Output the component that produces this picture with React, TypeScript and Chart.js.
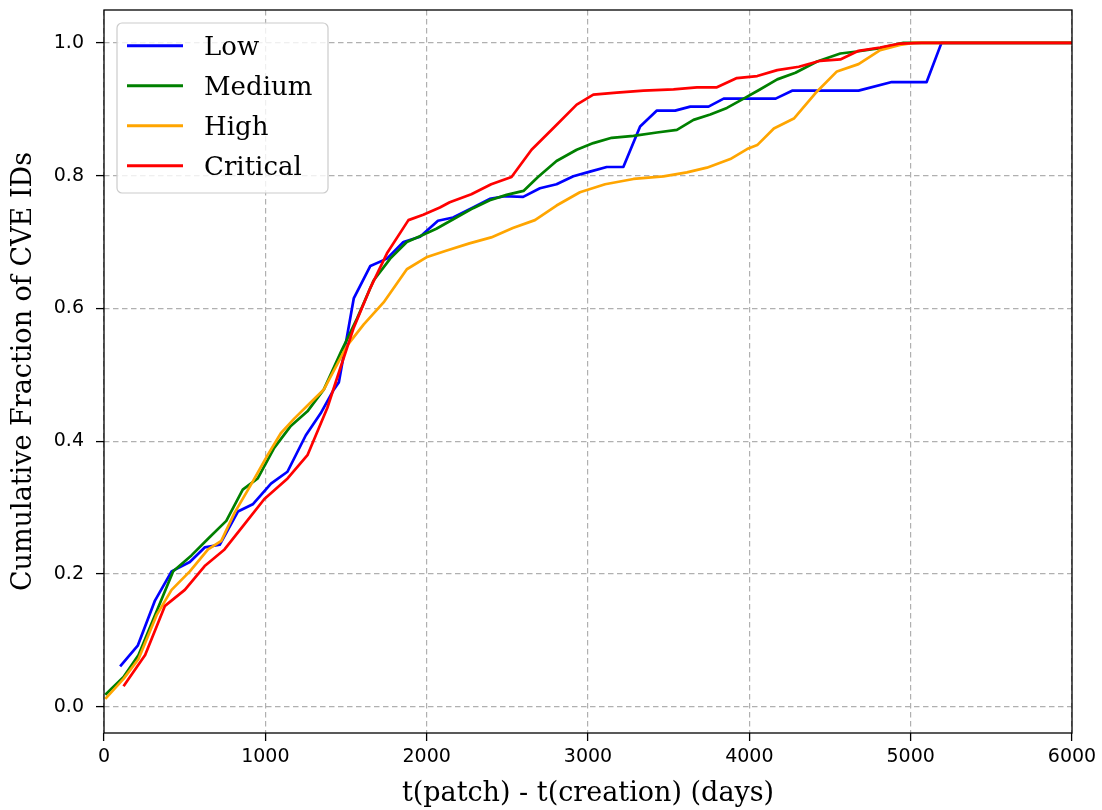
import React, { useEffect, useRef } from "react";
import { Chart, registerables } from "chart.js";

Chart.register(...registerables);

const lowX = [100, 209, 316, 419, 532, 624, 717, 830, 922, 1035, 1137, 1251, 1343, 1425, 1456, 1548, 1651, 1754, 1856, 1959, 2070, 2164, 2288, 2391, 2484, 2598, 2702, 2805, 2909, 3012, 3116, 3219, 3323, 3427, 3540, 3634, 3747, 3841, 3947, 4163, 4265, 4677, 4883, 5099, 5191, 6000];
const lowY = [0.061, 0.092, 0.16, 0.204, 0.218, 0.24, 0.244, 0.294, 0.305, 0.336, 0.354, 0.409, 0.442, 0.478, 0.489, 0.615, 0.664, 0.675, 0.7, 0.708, 0.732, 0.737, 0.752, 0.765, 0.769, 0.768, 0.781, 0.787, 0.799, 0.806, 0.813, 0.813, 0.874, 0.898, 0.898, 0.904, 0.904, 0.916, 0.916, 0.916, 0.928, 0.928, 0.941, 0.941, 1.0, 1.0];

const mediumX = [8, 121, 214, 316, 429, 542, 645, 758, 860, 953, 1055, 1158, 1261, 1363, 1466, 1569, 1671, 1774, 1877, 1979, 2060, 2184, 2288, 2391, 2495, 2600, 2690, 2805, 2930, 3033, 3147, 3282, 3427, 3551, 3654, 3758, 3861, 3965, 4060, 4173, 4286, 4420, 4564, 4667, 4811, 4955, 5099, 6000];
const mediumY = [0.018, 0.045, 0.078, 0.138, 0.204, 0.228, 0.253, 0.28, 0.327, 0.344, 0.39, 0.423, 0.445, 0.478, 0.533, 0.585, 0.642, 0.675, 0.7, 0.711, 0.72, 0.737, 0.751, 0.763, 0.771, 0.777, 0.798, 0.822, 0.839, 0.849, 0.857, 0.86, 0.865, 0.869, 0.884, 0.892, 0.902, 0.916, 0.929, 0.945, 0.955, 0.972, 0.984, 0.987, 0.992, 1.0, 1.0, 1.0];

const highX = [8, 121, 214, 326, 419, 532, 645, 727, 809, 912, 1014, 1096, 1179, 1271, 1363, 1446, 1507, 1610, 1733, 1877, 1998, 2120, 2265, 2400, 2534, 2671, 2805, 2950, 3106, 3282, 3468, 3613, 3737, 3882, 3986, 4049, 4152, 4276, 4409, 4543, 4677, 4811, 4934, 5016, 6000];
const highY = [0.012, 0.042, 0.072, 0.138, 0.176, 0.204, 0.237, 0.25, 0.292, 0.335, 0.379, 0.412, 0.434, 0.456, 0.478, 0.516, 0.544, 0.576, 0.609, 0.659, 0.677, 0.687, 0.698, 0.707, 0.721, 0.733, 0.755, 0.775, 0.787, 0.795, 0.799, 0.805, 0.812, 0.825, 0.84, 0.846, 0.871, 0.886, 0.924, 0.957, 0.968, 0.989, 0.997, 1.0, 1.0];

const criticalX = [121, 255, 378, 501, 624, 747, 871, 994, 1138, 1261, 1384, 1466, 1548, 1651, 1754, 1887, 1979, 2082, 2143, 2277, 2400, 2526, 2650, 2795, 2930, 3033, 3178, 3344, 3530, 3675, 3799, 3923, 4049, 4173, 4307, 4440, 4564, 4677, 4811, 4934, 5068, 6000];
const criticalY = [0.031, 0.078, 0.152, 0.176, 0.212, 0.237, 0.275, 0.313, 0.344, 0.379, 0.45, 0.511, 0.571, 0.631, 0.683, 0.733, 0.741, 0.752, 0.76, 0.772, 0.787, 0.798, 0.839, 0.874, 0.907, 0.922, 0.925, 0.928, 0.93, 0.933, 0.933, 0.947, 0.95, 0.959, 0.964, 0.973, 0.975, 0.988, 0.993, 0.999, 1.0, 1.0];

const seriesNames = ["Low", "Medium", "High", "Critical"];
const seriesColors = ["#0000ff", "#008000", "#ffa500", "#ff0000"];
const xTicks = [0, 1000, 2000, 3000, 4000, 5000, 6000];
const yTicks = [0.0, 0.2, 0.4, 0.6, 0.8, 1.0];
const xTitle = "t(patch) - t(creation) (days)";
const yTitle = "Cumulative Fraction of CVE IDs";

function pairs(xs: number[], ys: number[]) {
  return xs.map((x, i) => ({ x, y: ys[i] }));
}

export default function App() {
  const ref = useRef<HTMLCanvasElement>(null);

  useEffect(() => {
    const canvas = ref.current;
    if (!canvas) return;
    const seriesData = [
      pairs(lowX, lowY),
      pairs(mediumX, mediumY),
      pairs(highX, highY),
      pairs(criticalX, criticalY),
    ];

    const framePlugin = {
      id: "frame",
      afterDatasetsDraw(chart: any) {
        const { ctx, chartArea } = chart;
        ctx.save();
        ctx.strokeStyle = "#000";
        ctx.lineWidth = 1.3;
        ctx.strokeRect(chartArea.left, chartArea.top, chartArea.right - chartArea.left, chartArea.bottom - chartArea.top);
        ctx.restore();
      },
    };

    const legendPlugin = {
      id: "mplLegend",
      afterDraw(chart: any) {
        const { ctx, chartArea } = chart;
        const bx = chartArea.left + 13;
        const by = chartArea.top + 13;
        const bw = 211;
        const bh = 170;
        ctx.save();
        ctx.beginPath();
        if (ctx.roundRect) ctx.roundRect(bx, by, bw, bh, 5);
        else ctx.rect(bx, by, bw, bh);
        ctx.fillStyle = "rgba(255,255,255,0.8)";
        ctx.fill();
        ctx.strokeStyle = "#cccccc";
        ctx.lineWidth = 1.2;
        ctx.stroke();
        ctx.font = "26px 'DejaVu Serif'";
        ctx.textBaseline = "alphabetic";
        ctx.textAlign = "left";
        seriesNames.forEach((name, i) => {
          const cy = by + 22.7 + i * 40;
          ctx.beginPath();
          ctx.strokeStyle = seriesColors[i];
          ctx.lineWidth = 3;
          ctx.moveTo(chartArea.left + 23, cy);
          ctx.lineTo(chartArea.left + 79, cy);
          ctx.stroke();
          ctx.fillStyle = "#000";
          ctx.fillText(name, chartArea.left + 100, cy + 9.5);
        });
        ctx.restore();
      },
    };

    const gridCommon = {
      color: "#b0b0b0",
      lineWidth: 1.2,
      drawTicks: true,
      tickLength: 8,
      tickColor: "#000",
      tickWidth: 1.3,
      tickBorderDash: [],
    };

    const chart = new Chart(canvas, {
      type: "line",
      data: {
        datasets: seriesNames.map((name, i) => ({
          label: name,
          data: seriesData[i],
          borderColor: seriesColors[i],
          backgroundColor: seriesColors[i],
          borderWidth: 2.7,
          pointRadius: 0,
          tension: 0,
          fill: false,
          borderJoinStyle: "round" as const,
          order: 4 - i,
        })),
      },
      options: {
        animation: false,
        responsive: false,
        maintainAspectRatio: false,
        layout: { padding: { top: 10, right: 30, left: 0, bottom: 0 } },
        plugins: {
          legend: { display: false },
          tooltip: { enabled: false },
          title: { display: false },
        },
        scales: {
          x: {
            type: "linear",
            min: 0,
            max: 6000,
            afterBuildTicks: (scale: any) => {
              scale.ticks = xTicks.map((v) => ({ value: v }));
            },
            afterFit: (scale: any) => {
              scale.height = 77;
              scale.paddingLeft = 0;
              scale.paddingRight = 0;
            },
            grid: gridCommon,
            border: { display: false, dash: [5.5, 3.5] },
            ticks: {
              color: "#000",
              font: { family: "'DejaVu Sans'", size: 19, lineHeight: 1.2 },
              padding: 5,
              maxRotation: 0,
              autoSkip: false,
              callback: (v: any) => String(v),
            },
            title: {
              display: true,
              text: xTitle,
              color: "#000",
              font: { family: "'DejaVu Serif'", size: 27, lineHeight: 1.2 },
              padding: { top: 0, bottom: 0 },
            },
          },
          y: {
            type: "linear",
            min: -0.0395,
            max: 1.0495,
            afterBuildTicks: (scale: any) => {
              scale.ticks = yTicks.map((v) => ({ value: v }));
            },
            afterFit: (scale: any) => {
              scale.width = 104;
              scale.paddingTop = 0;
              scale.paddingBottom = 0;
            },
            grid: gridCommon,
            border: { display: false, dash: [5.5, 3.5] },
            ticks: {
              color: "#000",
              font: { family: "'DejaVu Sans'", size: 19, lineHeight: 0.9 },
              padding: 12,
              autoSkip: false,
              callback: (v: any) => Number(v).toFixed(1),
            },
            title: {
              display: true,
              text: yTitle,
              color: "#000",
              font: { family: "'DejaVu Serif'", size: 27, lineHeight: 1.2 },
              padding: { top: 8, bottom: 0 },
            },
          },
        },
      },
      plugins: [framePlugin, legendPlugin],
    });

    return () => chart.destroy();
  }, []);

  return (
    <div style={{ position: "fixed", left: 0, top: 0, width: 1102, height: 810, background: "#fff" }}>
      <canvas ref={ref} width={1102} height={810} style={{ display: "block", width: 1102, height: 810 }} />
    </div>
  );
}
